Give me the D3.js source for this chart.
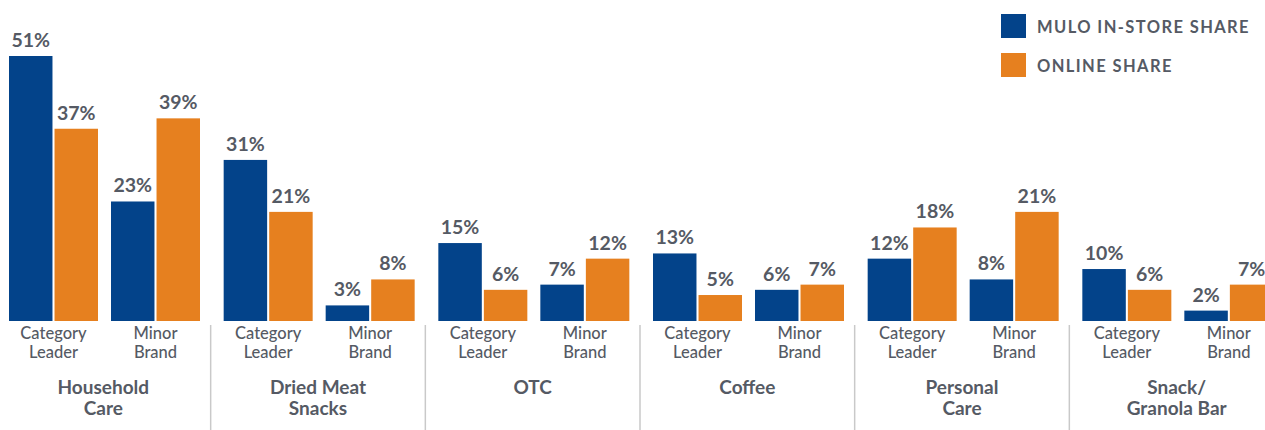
<!DOCTYPE html>
<html><head><meta charset="utf-8">
<script src="https://cdn.jsdelivr.net/npm/d3@7"></script>
<style>body{margin:0;background:#fff}svg{display:block}</style>
</head><body>
<svg id="c" width="1265" height="430"></svg>
<script>
const groups = [["Household","Care"],["Dried Meat","Snacks"],["OTC"],["Coffee"],["Personal","Care"],["Snack/","Granola Bar"]];
const subcats = [["Category","Leader"],["Minor","Brand"]];
const seriesNames = ["MULO IN-STORE SHARE","ONLINE SHARE"];
const instoreShare = [[51,23],[31,3],[15,7],[13,6],[12,8],[10,2]];
const onlineShare  = [[37,39],[21,8],[6,12],[5,7],[18,21],[6,7]];
const colors = ["#03438a","#e6801f"];
const textColor = "#555a64";
const font = "Lato, 'Open Sans', sans-serif";

const svg = d3.select("#c");
const baseY = 321;
const y = d3.scaleLinear().domain([0, 51]).range([baseY, 56]);
const x0 = d3.scaleBand().domain(d3.range(groups.length)).range([-4, 1284]);
const x1 = d3.scaleBand().domain([0,1]).range([13, 204]).paddingInner(0.1275);
const x2 = d3.scaleBand().domain([0,1]).range([0, x1.bandwidth()]).paddingInner(0.045);

const g = svg.selectAll("g.grp").data(groups).join("g").attr("class","grp")
  .attr("transform",(d,i)=>`translate(${x0(i)},0)`);

groups.forEach((gr, gi) => {
  const gg = d3.select(g.nodes()[gi]);
  subcats.forEach((sc, si) => {
    const vals = [instoreShare[gi][si], onlineShare[gi][si]];
    const sg = gg.append("g").attr("transform",`translate(${x1(si)},0)`);
    sg.selectAll("rect").data(vals).join("rect")
      .attr("x",(d,k)=>x2(k)).attr("width",x2.bandwidth())
      .attr("y",d=>y(d)).attr("height",d=>baseY-y(d))
      .attr("fill",(d,k)=>colors[k]);
    sg.selectAll("text.v").data(vals).join("text").attr("class","v")
      .attr("x",(d,k)=>x2(k)+x2.bandwidth()/2).attr("y",d=>y(d)-9)
      .attr("text-anchor","middle").attr("font-family",font).attr("font-weight",700)
      .attr("font-size",19.5).attr("fill",textColor).text(d=>d+"%");
    const t = sg.append("text").attr("text-anchor","middle").attr("font-family",font)
      .attr("font-size",16.5).attr("font-weight",500).attr("fill",textColor);
    sc.forEach((line, li) => t.append("tspan").attr("x",x1.bandwidth()/2).attr("y",338.5+li*19).text(line));
  });
  const gt = gg.append("text").attr("text-anchor","middle").attr("font-family",font)
    .attr("font-size",19).attr("font-weight",700).attr("fill",textColor);
  gr.forEach((line, li) => gt.append("tspan").attr("x",x0.bandwidth()/2).attr("y",394+li*21).text(line));
  if (gi > 0) {
    gg.append("line").attr("x1",0).attr("x2",0).attr("y1",325).attr("y2",430)
      .attr("stroke","#c9c9c9").attr("stroke-width",1.5);
  }
});

const lg = svg.append("g").attr("transform","translate(1001,14)");
seriesNames.forEach((s, i) => {
  lg.append("rect").attr("x",0).attr("y",i*39).attr("width",25).attr("height",24).attr("fill",colors[i]);
  lg.append("text").attr("x",36).attr("y",i*39+19).attr("font-family",font).attr("font-size",16.5)
    .attr("font-weight",700).attr("letter-spacing",1.4).attr("fill",textColor).text(s);
});
</script>
</body></html>
